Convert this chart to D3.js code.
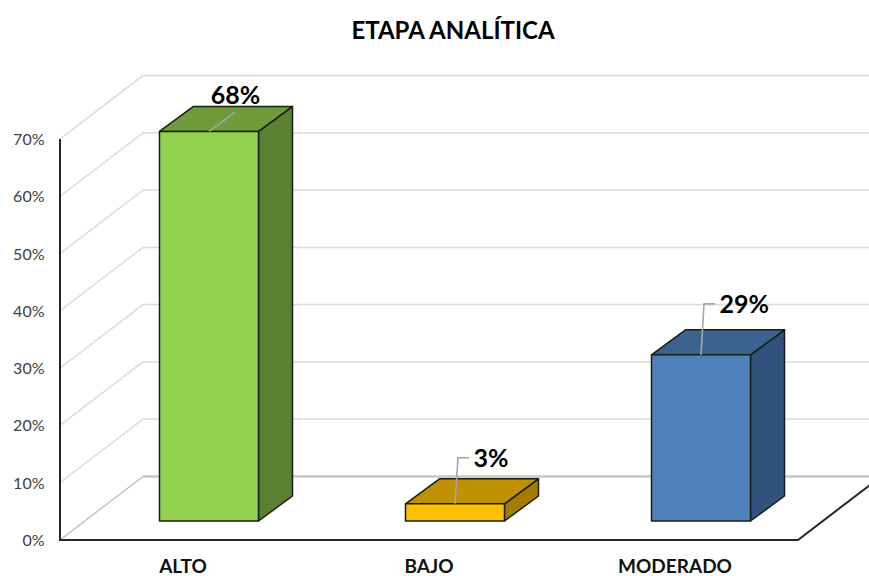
<!DOCTYPE html>
<html>
<head>
<meta charset="utf-8">
<script src="https://cdn.jsdelivr.net/npm/d3@7/dist/d3.min.js"></script>
<style>
  html, body { margin: 0; padding: 0; background: #fff; }
  svg { display: block; }
  text { font-family: Lato, "Open Sans", sans-serif; }
</style>
</head>
<body>
<svg id="chart" width="869" height="576"></svg>
<script>
// Chart content
const chartTitle = "ETAPA ANALÍTICA";
const categories = ["ALTO", "BAJO", "MODERADO"];
const percentages = [68, 3, 29];
const yTicks = [0, 10, 20, 30, 40, 50, 60, 70];
const frontColors = ["#92d050", "#ffc000", "#4f81bd"];
const topColors = ["#6f9b3a", "#bf9000", "#3b6291"];
const sideColors = ["#5b8031", "#a67c00", "#31527c"];
// Rise of each elbowed leader line above its bar
const leaderRise = [null, 46, 51];

const width = 869, height = 576;
const svg = d3.select("#chart");

const x = d3.scaleBand().domain(categories).range([60, 798]);
const y = d3.scaleLinear().domain([0, 70]).range([540, 139]);

// Oblique projection used by the walls and the bars
const wallDX = 83, wallDY = -63.5;
const barInsetX = 26, barInsetY = -19;
const barDepthX = 34, barDepthY = -25;
const barWidth = 99;

// Back wall gridlines and their side wall returns
const grid = svg.append("g").attr("fill", "none");
yTicks.forEach(t => {
  grid.append("line")
    .attr("x1", 60 + wallDX).attr("x2", width)
    .attr("y1", y(t) + wallDY).attr("y2", y(t) + wallDY)
    .attr("stroke", t === 0 ? "#c8c8c8" : "#dedede")
    .attr("stroke-width", t === 0 ? 2.6 : 1.8);
  grid.append("line")
    .attr("x1", 60).attr("x2", 60 + wallDX)
    .attr("y1", y(t)).attr("y2", y(t) + wallDY)
    .attr("stroke", t === 0 ? "#bcbcbc" : "#dedede")
    .attr("stroke-width", t === 0 ? 1.3 : 1.6);
});

// Floor edges and vertical axis
svg.append("path")
  .attr("fill", "none").attr("stroke", "#262626").attr("stroke-width", 2)
  .attr("d", d3.line()([[60, y(70)], [60, y(0)], [x.range()[1], y(0)], [x.range()[1] + wallDX, y(0) + wallDY]]));

const yAxis = d3.axisLeft(y).tickValues(yTicks).tickSize(0).tickFormat(d => d + "%");
const yG = svg.append("g").attr("transform", "translate(60,0)").call(yAxis);
yG.select(".domain").remove();
yG.selectAll("text")
  .attr("x", -15.5).attr("dy", "0.34em")
  .attr("fill", "#404040")
  .style("font-family", "Lato, sans-serif")
  .style("font-size", "16px");

const xAxis = d3.axisBottom(x).tickSize(0);
const xG = svg.append("g").attr("transform", `translate(0,${y(0)})`).call(xAxis);
xG.select(".domain").remove();
xG.selectAll("text")
  .attr("y", 20).attr("dy", "0.71em")
  .attr("fill", "#111")
  .style("font-family", "Lato, sans-serif")
  .style("font-size", "19px")
  .style("font-weight", 700);

// Three-faced bars
const bars = svg.append("g");
categories.forEach((cat, i) => {
  const x0 = x(cat) + x.bandwidth() / 2 + barInsetX - barWidth / 2;
  const x1 = x0 + barWidth;
  const yb = y(0) + barInsetY;
  const yt = y(percentages[i]) + barInsetY;
  const line = d3.line();
  const g = bars.append("g").attr("stroke", "#14200f").attr("stroke-width", 1.5).attr("stroke-linejoin", "round");
  g.append("path").attr("fill", sideColors[i])
    .attr("d", line([[x1, yt], [x1 + barDepthX, yt + barDepthY], [x1 + barDepthX, yb + barDepthY], [x1, yb]]) + "Z");
  g.append("path").attr("fill", topColors[i])
    .attr("d", line([[x0, yt], [x0 + barDepthX, yt + barDepthY], [x1 + barDepthX, yt + barDepthY], [x1, yt]]) + "Z");
  g.append("rect").attr("fill", frontColors[i])
    .attr("x", x0).attr("y", yt).attr("width", barWidth).attr("height", yb - yt);

  // Leader line and value label
  const cx = x0 + barWidth / 2;
  const leader = svg.append("path").attr("fill", "none").attr("stroke", "#a6a6a6").attr("stroke-width", 1.6);
  if (leaderRise[i] === null) {
    leader.attr("d", line([[cx, yt], [cx + 26, yt - 19]]));
    svg.append("text").attr("x", cx + 26.5).attr("y", yt - 27.5)
      .attr("text-anchor", "middle")
      .attr("font-size", 25).attr("font-weight", 700).attr("fill", "#000")
      .text(percentages[i] + "%");
  } else {
    const top = yt - leaderRise[i];
    leader.attr("d", line([[cx, yt], [cx + 3, top], [cx + 14, top]]));
    svg.append("text").attr("x", cx + 18.5).attr("y", top + 9)
      .attr("text-anchor", "start")
      .attr("font-size", 25).attr("font-weight", 700).attr("fill", "#000")
      .text(percentages[i] + "%");
  }
});

// Title
svg.append("text")
  .attr("x", 453).attr("y", 38.5)
  .attr("text-anchor", "middle")
  .attr("font-size", 24).attr("font-weight", 700).attr("fill", "#000")
  .text(chartTitle);
</script>
</body>
</html>
